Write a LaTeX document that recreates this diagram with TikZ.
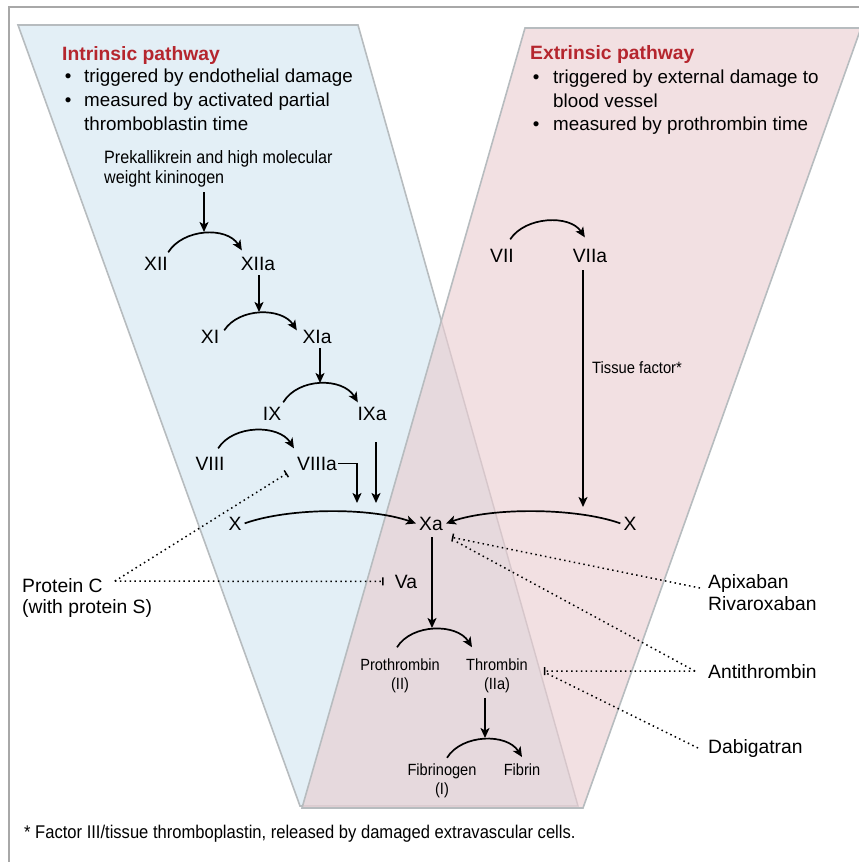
\documentclass[tikz,border=0pt]{standalone}
\usepackage{fontspec}
\setmainfont{Liberation Sans}
\newfontfamily\condfam[FakeStretch=0.9]{Liberation Sans}
\usetikzlibrary{arrows.meta}
\definecolor{bluefill}{HTML}{E3EFF6}
\definecolor{pinkfill}{HTML}{F2E0E2}
\definecolor{overfill}{HTML}{E6D9DD}
\definecolor{edgegray}{HTML}{B7BCBF}
\definecolor{edgelight}{HTML}{D6C6CA}
\definecolor{framegray}{HTML}{A8A8A8}
\definecolor{titlered}{HTML}{B5262E}
\tikzset{
  lbl/.style={anchor=base, inner sep=3pt, font=\fontsize{19.3}{23}\selectfont},
  rtxt/.style={anchor=base west, inner sep=0pt, font=\fontsize{19.3}{23}\selectfont},
  btxt/.style={anchor=base west, inner sep=0pt, font=\fontsize{18.8}{24}\selectfont},
  ttl/.style={anchor=base west, inner sep=0pt, text=titlered, font=\bfseries\fontsize{19.3}{23}\selectfont},
  smlc/.style={inner sep=3pt, align=center, font=\condfam\fontsize{16.2}{19}\selectfont},
  arr/.style={line width=1.7pt, -{Stealth[length=10pt,width=9pt,inset=2.5pt]}},
  dots/.style={line width=1.5pt, dash pattern=on 1.5pt off 3.4pt},
  inh/.style={dots, -{Bar[width=8pt,line width=1.5pt]}},
  shapeedge/.style={line width=1.6pt, edgegray, line join=miter},
}
\begin{document}
\begin{tikzpicture}[x=1pt,y=1pt]
\useasboundingbox (0,0) rectangle (859,-862);
% background shapes
\fill[bluefill, draw=edgegray, line width=1.6pt] (18,-25) -- (358,-25) -- (578,-806) -- (300,-806) -- cycle;
\fill[pinkfill] (525,-28) -- (861,-28) -- (583,-808) -- (302,-808) -- cycle;
\begin{scope}
  \clip (18,-25) -- (358,-25) -- (578,-806) -- (300,-806) -- cycle;
  \fill[overfill] (525,-28) -- (861,-28) -- (583,-808) -- (302,-808) -- cycle;
\end{scope}
\draw[line width=1.4pt, edgelight] (441.3,-320.7) -- (578,-806) -- (302,-806);
\draw[shapeedge] (525,-28) -- (861,-28) -- (583,-808) -- (302,-808) -- cycle;
% frame
\draw[framegray, line width=1.4pt] (9,-862) -- (9,-7) -- (860,-7);

% headings
\node[ttl] (tin) at (62,-60) {Intrinsic pathway};
\node[btxt] (bu1) at (64.7,-82) {\textbullet};
\node[btxt] (in1) at (84,-82) {triggered by endothelial damage};
\node[btxt] (bu2) at (64.7,-106) {\textbullet};
\node[btxt] (in2) at (84,-106) {measured by activated partial};
\node[btxt] (in3) at (84,-130) {thromboblastin time};

\node[ttl] (tex) at (530,-59) {Extrinsic pathway};
\node[btxt] (bu3) at (532.7,-83) {\textbullet};
\node[btxt] (ex1) at (553,-83) {triggered by external damage to};
\node[btxt] (ex2) at (553,-107) {blood vessel};
\node[btxt] (bu4) at (532.7,-130) {\textbullet};
\node[btxt] (ex3) at (553,-130) {measured by prothrombin time};

\node[anchor=west, inner sep=0pt, align=left, font=\condfam\fontsize{17.9}{20}\selectfont] (pk) at (104,-168.9) {Prekallikrein and high molecular\\weight kininogen};

% factor labels
\node[lbl] (XII) at (156,-270) {XII};
\node[lbl] (XIIa) at (258,-270) {XIIa};
\node[lbl] (XI) at (210,-343) {XI};
\node[lbl] (XIa) at (317,-343) {XIa};
\node[lbl] (IX) at (272,-420) {IX};
\node[lbl] (IXa) at (372,-420) {IXa};
\node[lbl] (VIII) at (210,-470) {VIII};
\node[lbl] (VIIIa) at (317,-470) {VIIIa};
\node[lbl] (Xl) at (235,-530) {X};
\node[lbl] (Xa) at (431,-530) {Xa};
\node[lbl] (VII) at (502,-262) {VII};
\node[lbl] (VIIa) at (590,-262) {VIIa};
\node[lbl] (Xr) at (630,-530) {X};
\node[lbl] (Va) at (406,-588) {Va};
\node[anchor=base west, inner sep=0pt, font=\condfam\fontsize{16.4}{18}\selectfont] (tf) at (592,-373) {Tissue factor*};

\node[smlc] (Pro) at (400,-675.5) {Prothrombin\\(II)};
\node[smlc] (Thr) at (497,-675.5) {Thrombin\\(IIa)};
\node[smlc] (Fbg) at (442,-781) {Fibrinogen\\(I)};
\node[anchor=base, inner sep=3pt, font=\condfam\fontsize{16.2}{19}\selectfont] (Fbn) at (522,-775) {Fibrin};

% side labels
\node[rtxt] (PC1) at (22,-592) {Protein C};
\node[rtxt] (PC2) at (22,-613) {(with protein S)};
\node[rtxt] (Api) at (708,-588) {Apixaban};
\node[rtxt] (Riv) at (708,-610) {Rivaroxaban};
\node[rtxt] (At) at (708,-678) {Antithrombin};
\node[rtxt] (Dab) at (708,-753) {Dabigatran};

\node[anchor=base west, inner sep=0pt, font=\condfam\fontsize{18.4}{20}\selectfont] (fn) at (24,-838) {* Factor III/tissue thromboplastin, released by damaged extravascular cells.};

% arc peak coordinates (arrow targets)
\coordinate (k12) at (204,-232);
\coordinate (k11) at (259,-312);
\coordinate (k9) at (320,-383);
\coordinate (k8) at (357,-503);
\coordinate (k9a) at (376,-503);
\coordinate (kX) at (583,-507);
\coordinate (k2) at (432,-628);
\coordinate (k1) at (485,-738);

% activation arcs
\draw[arr] ([xshift=-2.8pt,yshift=1.2pt]XII.north east) .. controls +(15,24) and +(-15,24) .. ([xshift=4.2pt,yshift=3.2pt]XIIa.north west);
\draw[arr] ([xshift=1.9pt,yshift=-3.8pt]XI.north east) .. controls +(15,23) and +(-15,23) .. ([xshift=-2.5pt,yshift=-3.8pt]XIa.north west);
\draw[arr] ([xshift=-1.1pt,yshift=1.2pt]IX.north east) .. controls +(15,25) and +(-15,25) .. ([xshift=3.5pt,yshift=1.2pt]IXa.north west);
\draw[arr] ([xshift=-9.5pt,yshift=5.2pt]VIII.north east) .. controls +(15,24) and +(-15,24) .. ([yshift=5.2pt]VIIIa.north west);
\draw[arr] ([xshift=-6.8pt,yshift=6.2pt]VII.north east) .. controls +(15,23) and +(-15,23) .. ([xshift=15.2pt,yshift=8.2pt]VIIa.north west);
\draw[arr] (Xl.east) .. controls +(45,16) and +(-45,16) .. (Xa.west);
\draw[arr] (Xr.west) .. controls +(-45,16) and +(45,16) .. (Xa.east);
\draw[arr] ([xshift=-3pt,yshift=8pt]Pro.north) .. controls +(15,24) and +(-15,24) .. ([xshift=-25pt,yshift=8pt]Thr.north);
\draw[arr] ([xshift=5pt,yshift=3pt]Fbg.north) .. controls +(15,24) and +(-15,24) .. ([yshift=3pt]Fbn.north);

% straight arrows
\draw[arr] ([yshift=-5pt]pk.south -| k12) -- (k12);
\draw[arr] ([yshift=-2pt]XIIa.south -| k11) -- (k11);
\draw[arr] ([yshift=-2pt]XIa.south -| k9) -- (k9);
\draw[arr] ([yshift=-19pt]IXa.south -| k9a) -- (k9a);
\draw[arr] ([xshift=-2pt]VIIIa.east) -| (k8);
\draw[arr] ([yshift=-5pt]VIIa.south -| kX) -- (kX);
\draw[arr] ([yshift=-4pt]Xa.south -| k2) -- (k2);
\draw[arr] ([yshift=-2pt]Thr.south -| k1) -- (k1);

% inhibitions
\draw[inh] ([xshift=12pt,yshift=4pt]PC1.east) -- ([xshift=-7pt]VIIIa.south west);
\draw[inh] ([xshift=12pt,yshift=4pt]PC1.east) -- ([xshift=-8pt]Va.west);
\draw[inh] ([shift={(-8pt,-5pt)}]Api.west) -- ([shift={(6pt,-4pt)}]Xa.south east);
\draw[dots] ([xshift=-13pt]At.west) -- ([shift={(8pt,-7pt)}]Xa.south east);
\draw[inh] ([xshift=-13pt]At.west) -- ([shift={(13pt,4.5pt)}]Thr.east);
\draw[dots] ([xshift=-10pt]Dab.west) -- ([shift={(14pt,3pt)}]Thr.east);
\end{tikzpicture}
\end{document}
